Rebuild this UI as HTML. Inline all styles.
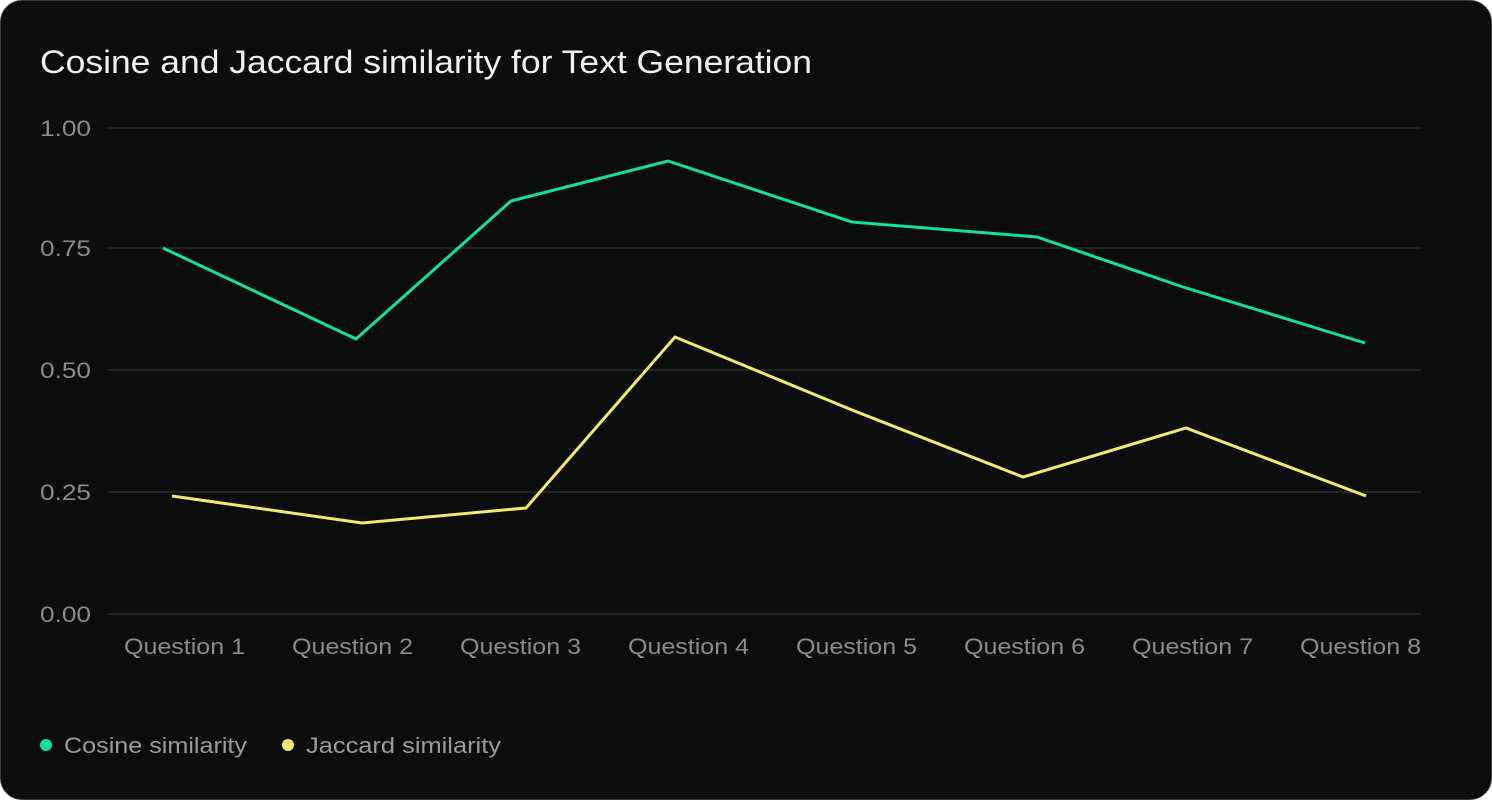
<!DOCTYPE html>
<html><head><style>
html,body{margin:0;padding:0;background:#fff;}
.card{position:absolute;left:0;top:0;width:1490px;height:798px;border:1px solid #3a3a3a;border-radius:22px;background:#0b0d0c;overflow:hidden;font-family:"Liberation Sans",sans-serif;}
</style></head><body>
<div class="card">
<svg width="1492" height="800" style="position:absolute;left:-1px;top:-1px" font-family="Liberation Sans, sans-serif">
<text x="40" y="73" fill="#f0f0f0" font-size="32" textLength="772" lengthAdjust="spacingAndGlyphs">Cosine and Jaccard similarity for Text Generation</text>
<g stroke="#2a2c2b" stroke-width="1.5">
<line x1="108" x2="1421" y1="128" y2="128"/>
<line x1="108" x2="1421" y1="248" y2="248"/>
<line x1="108" x2="1421" y1="370" y2="370"/>
<line x1="108" x2="1421" y1="492" y2="492"/>
<line x1="108" x2="1421" y1="614" y2="614"/>
</g>
<g fill="#8a8c8b" font-size="22">
<text x="40" y="136" textLength="51" lengthAdjust="spacingAndGlyphs">1.00</text>
<text x="40" y="256" textLength="51" lengthAdjust="spacingAndGlyphs">0.75</text>
<text x="40" y="378" textLength="51" lengthAdjust="spacingAndGlyphs">0.50</text>
<text x="40" y="500" textLength="51" lengthAdjust="spacingAndGlyphs">0.25</text>
<text x="40" y="622" textLength="51" lengthAdjust="spacingAndGlyphs">0.00</text>
</g>
<g fill="#8a8c8b" font-size="22">
<text x="124" y="654" textLength="121" lengthAdjust="spacingAndGlyphs">Question 1</text>
<text x="292" y="654" textLength="121" lengthAdjust="spacingAndGlyphs">Question 2</text>
<text x="460" y="654" textLength="121" lengthAdjust="spacingAndGlyphs">Question 3</text>
<text x="628" y="654" textLength="121" lengthAdjust="spacingAndGlyphs">Question 4</text>
<text x="796" y="654" textLength="121" lengthAdjust="spacingAndGlyphs">Question 5</text>
<text x="964" y="654" textLength="121" lengthAdjust="spacingAndGlyphs">Question 6</text>
<text x="1132" y="654" textLength="121" lengthAdjust="spacingAndGlyphs">Question 7</text>
<text x="1300" y="654" textLength="121" lengthAdjust="spacingAndGlyphs">Question 8</text>
</g>
<polyline fill="none" stroke="#10e0a0" stroke-width="3" points="163,248 356,339 511,201 668,161 852,222 1037,237 1183,287 1365,343"/>
<polyline fill="none" stroke="#f2ea6a" stroke-width="3" points="172,496 362,523 526,508 675,337 852,410 1023,477 1186,428 1366,496"/>
<circle cx="46" cy="745" r="6" fill="#10e0a0"/>
<text x="64" y="753" fill="#9a9c9b" font-size="22" textLength="183" lengthAdjust="spacingAndGlyphs">Cosine similarity</text>
<circle cx="288" cy="745" r="6" fill="#f2ea6a"/>
<text x="306" y="753" fill="#9a9c9b" font-size="22" textLength="195" lengthAdjust="spacingAndGlyphs">Jaccard similarity</text>
</svg>
</div>
</body></html>
